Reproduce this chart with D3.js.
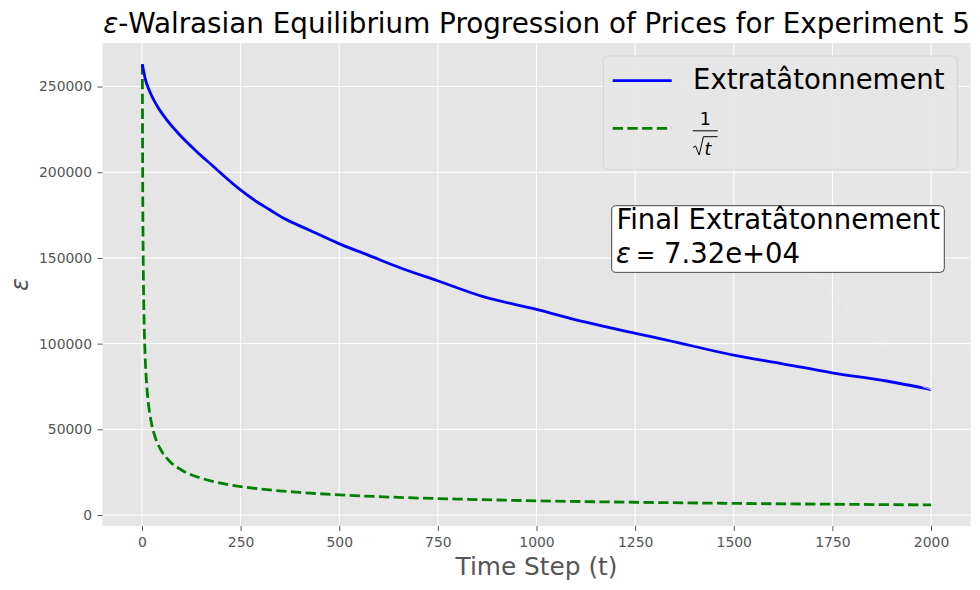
<!DOCTYPE html>
<html>
<head>
<meta charset="utf-8">
<script src="https://cdn.jsdelivr.net/npm/d3@7"></script>
<style>
  body { margin: 0; background: #fff; }
  text { font-family: "DejaVu Sans", sans-serif; }
</style>
</head>
<body>
<div id="chart-container"></div>
<script>

//Data

const seriesNames = ["Extratâtonnement", "1/sqrt(t)"];

// Extratâtonnement epsilon per time step
const extraT = [1, 8, 20, 37, 63, 96, 139, 172, 248, 291, 325, 358, 418, 498, 578, 654, 749, 865, 1000, 1119, 1251, 1330, 1499, 1617, 1749, 1887, 2000];
const extraEps = [263000, 254800, 247000, 239200, 230500, 221700, 212000, 205200, 190000, 182800, 178000, 173300, 166900, 158500, 151200, 144300, 136700, 127400, 120000, 112800, 106000, 102100, 93300, 88500, 83000, 78200, 73200];

// 1/sqrt(t) reference rate
const rateT = [1, 2, 3, 4, 6, 8, 12, 16, 25, 35, 50, 70, 100, 150, 200, 300, 400, 500, 650, 800, 1000, 1250, 1500, 1750, 2000];
const rateEps = [263000, 186000, 152000, 131500, 107400, 93000, 75900, 65800, 52600, 44500, 37200, 31400, 26300, 21500, 18600, 15200, 13200, 11800, 10300, 9300, 8300, 7450, 6800, 6300, 5900];

const xTicks = [0, 250, 500, 750, 1000, 1250, 1500, 1750, 2000];
const yTicks = [0, 50000, 100000, 150000, 200000, 250000];

const finalLabel = "7.32e+04";

//Set dimensions and margins for the chart

const margin = { top: 43, right: 9.5, bottom: 64, left: 102.5 };
const width = 980 - margin.left - margin.right;
const height = 590 - margin.top - margin.bottom;

const x = d3.scaleLinear()
    .domain([-100, 2100])
    .range([0, width]);

const y = d3.scaleLinear()
    .domain([-6400, 275400])
    .range([height, 0]);

const root = d3.select("#chart-container")
    .append("svg")
        .attr("width", 980)
        .attr("height", 590);

const svg = root.append("g")
        .attr("transform", `translate(${margin.left},${margin.top})`);

//Plot background (ggplot style)
svg.append("rect")
    .attr("width", width)
    .attr("height", height)
    .attr("fill", "#e5e5e5");

//Gridlines
svg.selectAll(".xGrid")
    .data(xTicks)
    .join("line")
    .attr("x1", d => x(d))
    .attr("x2", d => x(d))
    .attr("y1", 0)
    .attr("y2", height)
    .attr("stroke", "#fff")
    .attr("stroke-width", 1);

svg.selectAll(".yGrid")
    .data(yTicks)
    .join("line")
    .attr("x1", 0)
    .attr("x2", width)
    .attr("y1", d => y(d))
    .attr("y2", d => y(d))
    .attr("stroke", "#fff")
    .attr("stroke-width", 1);

//Axes
svg.append("g")
    .attr("transform", `translate(0,${height})`)
    .style("color", "#555")
    .call(d3.axisBottom(x)
        .tickValues(xTicks)
        .tickFormat(d3.format("d"))
        .tickSize(5)
        .tickPadding(6))
    .call(g => g.select(".domain").remove())
    .selectAll("text")
    .style("font-size", "13.9px")
    .style("font-family", "DejaVu Sans")
    .attr("fill", "#555");

svg.append("g")
    .style("color", "#555")
    .call(d3.axisLeft(y)
        .tickValues(yTicks)
        .tickFormat(d3.format("d"))
        .tickSize(5)
        .tickPadding(5.5))
    .call(g => g.select(".domain").remove())
    .selectAll("text")
    .style("font-size", "13.9px")
    .style("font-family", "DejaVu Sans")
    .attr("fill", "#555");

//Lines
const extraData = extraT.map((t, i) => ({ t: t, v: extraEps[i] }));
const rateData = rateT.map((t, i) => ({ t: t, v: rateEps[i] }));

const line = d3.line()
    .x(d => x(d.t))
    .y(d => y(d.v))
    .curve(d3.curveMonotoneX);

svg.append("path")
    .datum(rateData)
    .attr("d", line)
    .attr("fill", "none")
    .attr("stroke", "green")
    .attr("stroke-width", 2.8)
    .attr("stroke-dasharray", "10.3,4.4");

svg.append("path")
    .datum(extraData)
    .attr("d", line)
    .attr("fill", "none")
    .attr("stroke", "blue")
    .attr("stroke-width", 2.8);

//Annotation box with arrow to final value
const ax = x(1200), ay = y(150000);
const last = extraData[extraData.length - 1];

const arrowStart = [x(1700), ay + 15];
const arrowEnd = [x(last.t), y(last.v)];
svg.append("line")
    .attr("x1", arrowStart[0]).attr("y1", arrowStart[1])
    .attr("x2", arrowEnd[0]).attr("y2", arrowEnd[1])
    .attr("stroke", "#f0f0f0")
    .attr("stroke-width", 0.8);
const ang = Math.atan2(arrowEnd[1] - arrowStart[1], arrowEnd[0] - arrowStart[0]);
[-0.45, 0.45].forEach(off => {
    svg.append("line")
        .attr("x1", arrowEnd[0]).attr("y1", arrowEnd[1])
        .attr("x2", arrowEnd[0] - 9 * Math.cos(ang + off))
        .attr("y2", arrowEnd[1] - 9 * Math.sin(ang + off))
        .attr("stroke", "#f0f0f0")
        .attr("stroke-width", 0.8);
});

svg.append("rect")
    .attr("x", ax - 3.7)
    .attr("y", ay - 52.2)
    .attr("width", 332.6)
    .attr("height", 66.6)
    .attr("rx", 4)
    .attr("fill", "#fff")
    .attr("stroke", "#444")
    .attr("stroke-width", 1);

svg.append("text")
    .attr("x", ax + 1)
    .attr("y", ay - 29)
    .style("font-size", "27.5px")
    .attr("fill", "#000")
    .text("Final " + seriesNames[0]);

const eps2 = svg.append("text")
    .attr("y", ay + 4.6)
    .style("font-size", "27.5px")
    .attr("fill", "#000");
eps2.append("tspan").attr("x", ax + 0.5).style("font-style", "italic").text("ε");
eps2.append("tspan").attr("x", ax + 20.5).style("font-size", "23px").text("=");
eps2.append("tspan").attr("x", ax + 48.5).text(finalLabel);

//Legend
const legend = root.append("g");
legend.append("rect")
    .attr("x", 603.3)
    .attr("y", 56)
    .attr("width", 354)
    .attr("height", 113.3)
    .attr("rx", 4)
    .attr("fill", "#e5e5e5")
    .attr("fill-opacity", 0.9)
    .attr("stroke", "#d4d4d4")
    .attr("stroke-width", 1);

legend.append("line")
    .attr("x1", 612.7).attr("x2", 671.7)
    .attr("y1", 80.7).attr("y2", 80.7)
    .attr("stroke", "blue")
    .attr("stroke-width", 2.8);
legend.append("text")
    .attr("x", 693)
    .attr("y", 89)
    .style("font-size", "27.5px")
    .attr("fill", "#000")
    .text(seriesNames[0]);

legend.append("line")
    .attr("x1", 612.7).attr("x2", 671.7)
    .attr("y1", 128.3).attr("y2", 128.3)
    .attr("stroke", "green")
    .attr("stroke-width", 2.8)
    .attr("stroke-dasharray", "10.3,4.4");

// fraction 1 / sqrt(t)
legend.append("text")
    .attr("x", 705.2)
    .attr("y", 125)
    .attr("text-anchor", "middle")
    .style("font-size", "17.5px")
    .attr("fill", "#000")
    .text("1");
legend.append("line")
    .attr("x1", 692.7).attr("x2", 717.7)
    .attr("y1", 130.8).attr("y2", 130.8)
    .attr("stroke", "#000")
    .attr("stroke-width", 1);
legend.append("path")
    .attr("d", "M693,147.5 L695.6,146 L699.2,155 L703.4,136.7 L717.5,136.7")
    .attr("fill", "none")
    .attr("stroke", "#000")
    .attr("stroke-width", 1);
legend.append("text")
    .attr("x", 704.5)
    .attr("y", 155)
    .style("font-size", "17.5px")
    .style("font-style", "italic")
    .attr("fill", "#000")
    .text("t");

//Title and axis labels
root.append("text")
    .attr("x", margin.left + width / 2)
    .attr("y", 33)
    .attr("text-anchor", "middle")
    .style("font-size", "27.8px")
    .attr("fill", "#000")
    .call(t => {
        t.append("tspan").style("font-style", "italic").text("ε");
        t.append("tspan").text("-Walrasian Equilibrium Progression of Prices for Experiment 5");
    });

root.append("text")
    .attr("x", margin.left + width / 2)
    .attr("y", 575)
    .attr("text-anchor", "middle")
    .style("font-size", "24.8px")
    .attr("fill", "#555")
    .text("Time Step (t)");

root.append("text")
    .attr("transform", `translate(28,${margin.top + height / 2}) rotate(-90)`)
    .attr("text-anchor", "middle")
    .style("font-size", "24px")
    .style("font-style", "italic")
    .attr("fill", "#555")
    .text("ε");

</script>
</body>
</html>
